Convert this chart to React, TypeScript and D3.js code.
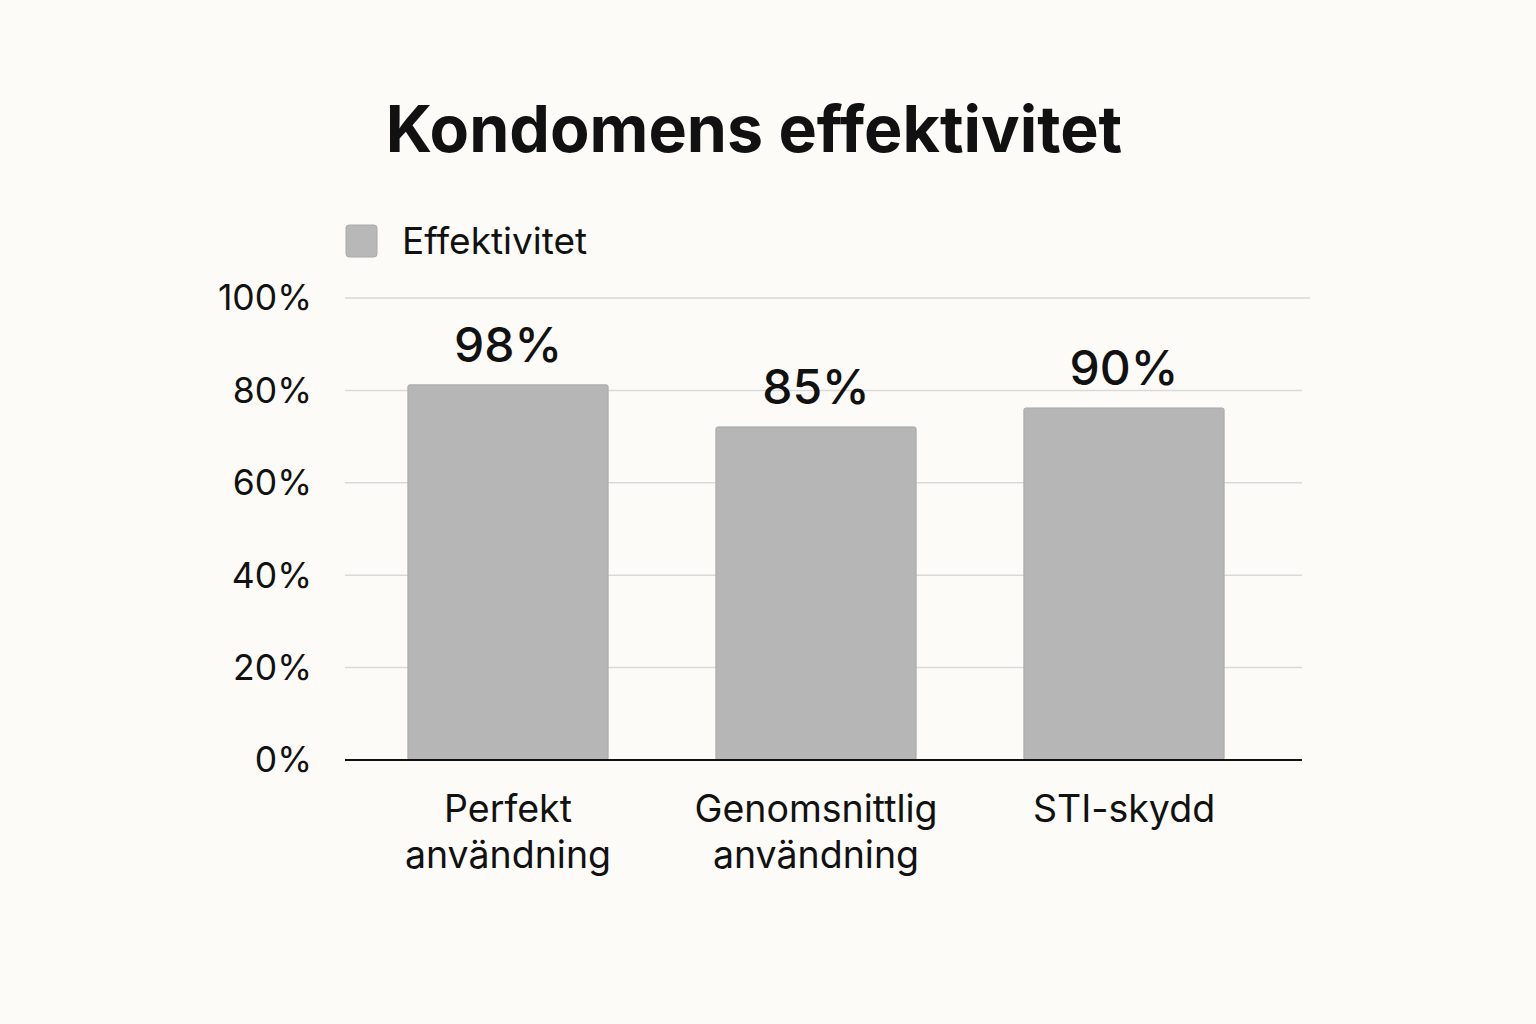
import React from 'react';
import * as d3 from 'd3';

const categories = [['Perfekt', 'användning'], ['Genomsnittlig', 'användning'], ['STI-skydd']];
const valueLabels = [98, 85, 90];
// bar heights as drawn in the picture (they do not match the labels)
const barValues = [81.2, 72.1, 76.2];
const yTicks = [0, 20, 40, 60, 80, 100];

const W = 1536;
const H = 1024;
const FONT = 'Inter, "Noto Sans", sans-serif';

const App: React.FC = () => {
  const x = d3.scaleBand<number>()
    .domain(d3.range(categories.length))
    .range([354, 1278])
    .paddingInner(0.35)
    .paddingOuter(0.175);

  const y = d3.scaleLinear().domain([0, 100]).range([760, 298]);

  return (
    <svg width={W} height={H} style={{ position: 'absolute', left: 0, top: 0 }} fontFamily={FONT}>
      <rect width={W} height={H} fill="#fcfbf7" />

      <text x={754} y={152} textAnchor="middle" fontSize={64.5} fontWeight={700} fill="#111">
        Kondomens effektivitet
      </text>

      {/* legend */}
      <rect x={346} y={225} width={31} height={32} rx={3} fill="#b8b8b8" stroke="#aaa" strokeWidth={1} />
      <text x={402} y={254} fontSize={37} fill="#111">Effektivitet</text>

      {/* grid + y ticks */}
      {yTicks.map(t => (
        <g key={t}>
          {t > 0 && (
            <line x1={345} x2={t === 100 ? 1310 : 1302} y1={y(t)} y2={y(t)} stroke="#d9d9d9" strokeWidth={1.5} />
          )}
          <text x={312} y={y(t)} dy="0.35em" textAnchor="end" fontSize={35.5} fill="#111">
            {t}%
          </text>
        </g>
      ))}

      {/* bars */}
      {barValues.map((v, i) => (
        <g key={i}>
          <rect
            x={x(i)}
            y={y(v)}
            width={x.bandwidth()}
            height={y(0) - y(v)}
            rx={2}
            fill="#b6b6b6"
            stroke="#a9a9a9"
            strokeWidth={1}
          />
          <text
            x={(x(i) as number) + x.bandwidth() / 2}
            y={y(v) - 23}
            textAnchor="middle"
            fontSize={48}
            fontWeight={500}
            fill="#111"
          >
            {valueLabels[i]}%
          </text>
          {categories[i].map((line, j) => (
            <text
              key={j}
              x={(x(i) as number) + x.bandwidth() / 2}
              y={822 + j * 46}
              textAnchor="middle"
              fontSize={37.5}
              fill="#111"
            >
              {line}
            </text>
          ))}
        </g>
      ))}

      {/* baseline */}
      <line x1={345} x2={1302} y1={y(0)} y2={y(0)} stroke="#111" strokeWidth={2} />
    </svg>
  );
};

export default App;
